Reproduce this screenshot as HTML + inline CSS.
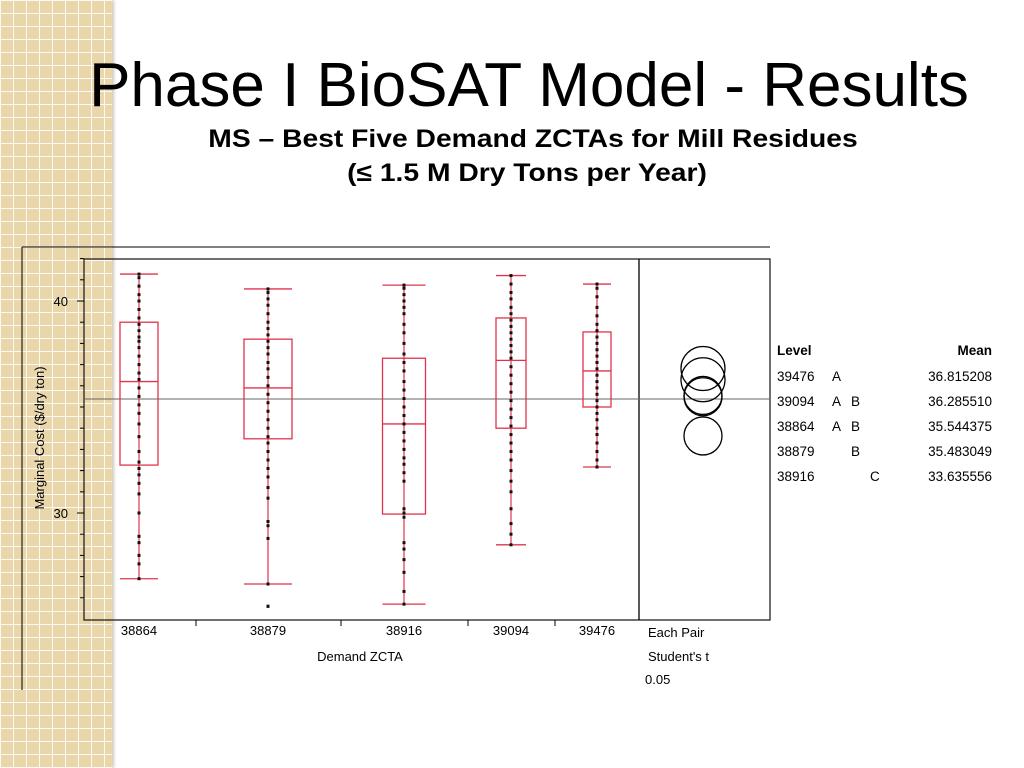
<!DOCTYPE html>
<html><head><meta charset="utf-8"><style>
body{margin:0;width:1024px;height:768px;background:#fff;position:relative;overflow:hidden;font-family:"Liberation Sans",sans-serif}
#strip{position:absolute;left:0;top:0;width:112px;height:768px;background-color:#ead6ab;
background-image:repeating-linear-gradient(90deg,rgba(255,255,255,.85) 0 1px,transparent 1px 13px),repeating-linear-gradient(0deg,rgba(255,255,255,.85) 0 1px,transparent 1px 13px);box-shadow:2px 0 3px rgba(120,100,60,.35)}
.t{position:absolute;white-space:nowrap}
</style></head><body>
<div id="strip"></div>
<div class="t" style="left:0;width:1058px;text-align:center;top:50px;font-size:62px;transform:scaleX(1.0)">Phase I BioSAT Model - Results</div>
<div class="t" style="left:0;width:1066px;text-align:center;top:125px;font-size:25px;font-weight:bold;transform:scaleX(1.13);transform-origin:533px 0">MS – Best Five Demand ZCTAs for Mill Residues</div>
<div class="t" style="left:0;width:1054px;text-align:center;top:159px;font-size:25px;font-weight:bold;transform:scaleX(1.13);transform-origin:527px 0">(≤ 1.5 M Dry Tons per Year)</div>
<svg id="chart" width="1024" height="768" style="position:absolute;left:0;top:0" font-family="Liberation Sans, sans-serif"></svg>
<script>
const categories=["38864","38879","38916","39094","39476"];
const whiskerLo=[26.9,26.65,25.7,28.5,32.17];
const q1=[32.26,33.5,29.95,34.0,35.0];
const medians=[36.2,35.9,34.2,37.2,36.7];
const q3=[39.0,38.2,37.3,39.2,38.54];
const whiskerHi=[41.27,40.57,40.75,41.2,40.8];
const outliers=[[],[25.6],[],[],[]];
const points=[
[41.27,41.1,40.7,40.3,40.0,39.6,39.2,38.9,38.6,38.3,38.1,37.8,37.4,37.0,36.6,36.3,35.9,35.5,35.1,34.7,34.2,33.6,32.9,32.4,32.1,31.8,31.4,30.9,30.0,28.9,28.6,28.0,27.6,26.9],
[40.57,40.4,40.1,39.8,39.4,39.0,38.7,38.4,38.1,37.8,37.5,37.1,36.8,36.4,36.0,35.6,35.2,34.8,34.4,34.0,33.6,33.3,32.9,32.5,32.1,31.7,31.2,30.7,29.6,29.4,28.8,26.65,25.6],
[40.75,40.6,40.3,40.0,39.7,39.4,38.9,38.5,38.0,37.5,37.1,36.7,36.2,35.8,35.4,35.0,34.6,34.2,33.8,33.4,33.0,32.6,32.3,31.9,31.5,30.2,30.0,29.8,28.6,28.3,27.8,27.2,26.3,25.7],
[41.2,40.8,40.4,40.1,39.7,39.4,39.1,38.8,38.5,38.2,37.9,37.6,37.3,36.9,36.5,36.1,35.7,35.3,34.9,34.5,34.1,33.7,33.3,32.9,32.5,32.0,31.5,31.0,30.2,29.5,29.0,28.5],
[40.8,40.6,40.2,39.7,39.3,38.9,38.6,38.3,38.0,37.7,37.4,37.1,36.8,36.5,36.2,35.9,35.6,35.3,35.0,34.7,34.4,34.0,33.7,33.3,32.9,32.5,32.17]
];
const grandMean=35.38;
const levels=["39476","39094","38864","38879","38916"];
const letterA=[true,true,true,false,false];
const letterB=[false,true,true,true,false];
const letterC=[false,false,false,false,true];
const means=[36.815208,36.285510,35.544375,35.483049,33.635556];
const radii=[22,22,19,19,19];
const yTicks=[26,27,28,29,30,31,32,33,34,35,36,37,38,39,40,41,42];
const yLabels=[30,40];

const svg=document.getElementById('chart');
const NS='http://www.w3.org/2000/svg';
function mk(tag,a,p){const e=document.createElementNS(NS,tag);for(const k in a)e.setAttribute(k,a[k]);(p||svg).appendChild(e);return e;}
const y=v=>301-(v-40)*21.2;
const xc=[139,268,404,511,597];
const hw=[19,24,21.5,15,14];

let e=mk('line',{x1:22,y1:247,x2:770,y2:247,stroke:'#000','stroke-width':1});

e=mk('line',{x1:22,y1:247,x2:22,y2:690,stroke:'#000','stroke-width':1});

e=mk('rect',{x:84,y:259,width:686,height:361,fill:'none',stroke:'#222','stroke-width':1.3});

e=mk('line',{x1:639,y1:259,x2:639,y2:620,stroke:'#000','stroke-width':1.3});

e=mk('line',{x1:84,y1:y(grandMean),x2:770,y2:y(grandMean),stroke:'#666','stroke-width':1});


yTicks.forEach(v=>{const t=mk('line',{x1:yLabels.includes(v)?77:80,y1:y(v),x2:84,y2:y(v),stroke:'#000'});
});
yLabels.forEach(v=>{const t=mk('text',{x:68,y:y(v)+5,'font-size':13,'text-anchor':'end'});t.textContent=v;
});
e=mk('text',{x:0,y:0,'font-size':13,'text-anchor':'middle',transform:'translate(44,438) rotate(-90)'});
e.textContent='Marginal Cost ($/dry ton)';

[196,341,468,555].forEach(x=>{const t=mk('line',{x1:x,y1:620,x2:x,y2:626,stroke:'#000'});
});

categories.forEach((c,i)=>{
  const g=mk('g',{});
  const x=xc[i],w=hw[i],col='#e0344c';
  mk('line',{x1:x,y1:y(whiskerHi[i]),x2:x,y2:y(whiskerLo[i]),stroke:col,'stroke-width':1.2},g);
  mk('line',{x1:x-w,y1:y(whiskerHi[i]),x2:x+w,y2:y(whiskerHi[i]),stroke:col,'stroke-width':1.3},g);
  mk('line',{x1:x-w,y1:y(whiskerLo[i]),x2:x+w,y2:y(whiskerLo[i]),stroke:col,'stroke-width':1.3},g);
  mk('rect',{x:x-w,y:y(q3[i]),width:2*w,height:y(q1[i])-y(q3[i]),fill:'none',stroke:col,'stroke-width':1.3},g);
  mk('line',{x1:x-w,y1:y(medians[i]),x2:x+w,y2:y(medians[i]),stroke:col,'stroke-width':1.3},g);
  points[i].concat(outliers[i]).forEach(v=>{const d=mk('rect',{x:x-1.5,y:y(v)-1.5,width:3,height:3,fill:'#111'},g);
    });
  const t=mk('text',{x:x,y:635,'font-size':13,'text-anchor':'middle'});t.textContent=c;
  
});
e=mk('text',{x:360,y:661,'font-size':13,'text-anchor':'middle'});e.textContent='Demand ZCTA';

[['Each Pair',648,637],["Student's t",648,661],['0.05',645,684]].forEach(([s,x,yy])=>{
  const t=mk('text',{x:x,y:yy,'font-size':13});t.textContent=s;
  });

means.forEach((m,i)=>{const c=mk('circle',{cx:703,cy:y(m),r:radii[i],fill:'none',stroke:'#000','stroke-width':1.3});
  });

e=mk('text',{x:777,y:355,'font-size':13.5,'font-weight':'bold'});e.textContent='Level';

e=mk('text',{x:992,y:355,'font-size':13.5,'font-weight':'bold','text-anchor':'end'});e.textContent='Mean';

levels.forEach((l,i)=>{const yy=381+i*25;
  let t=mk('text',{x:777,y:yy,'font-size':13.5});t.textContent=l;
  
  [[letterA,'A',832],[letterB,'B',851],[letterC,'C',870]].forEach(([arr,s,x])=>{
    if(!arr[i])return;
    const q=mk('text',{x:x,y:yy,'font-size':13.5});q.textContent=s;
    
    
  });
  t=mk('text',{x:992,y:yy,'font-size':13.5,'text-anchor':'end'});t.textContent=means[i].toFixed(6);
  
});
</script>
</body></html>
